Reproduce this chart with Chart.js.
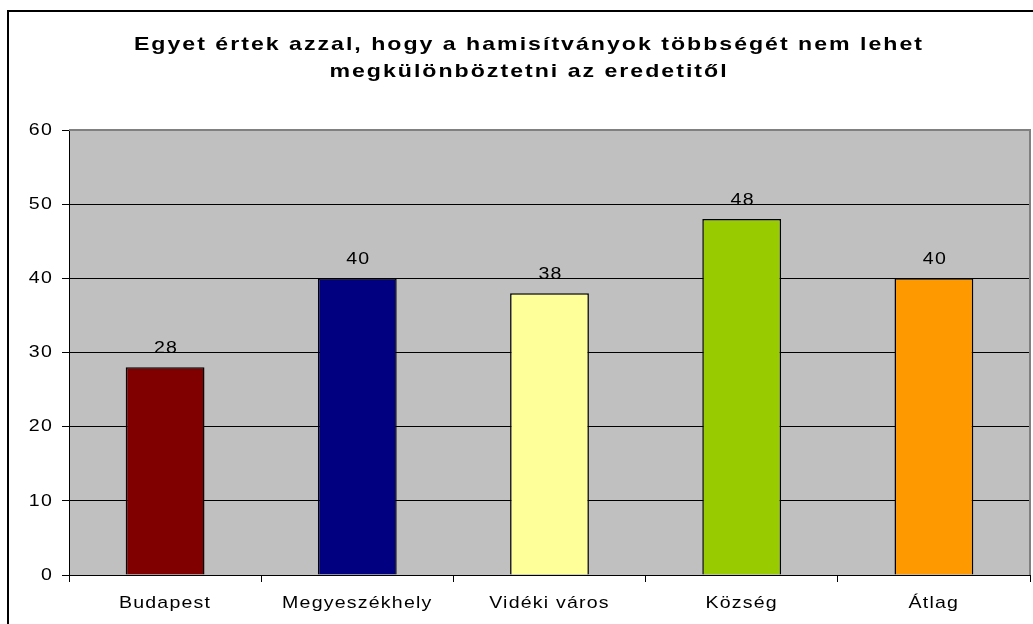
<!DOCTYPE html>
<html>
<head>
<meta charset="utf-8">
<script src="https://cdn.jsdelivr.net/npm/chart.js@4/dist/chart.umd.min.js"></script>
<style>
  html, body { margin: 0; padding: 0; background: #fff; }
  #wrap { width: 1033px; height: 624px; }
</style>
</head>
<body>
<div id="wrap"><canvas id="chart" width="1033" height="624"></canvas></div>
<script>
const titleLines = ['Egyet értek azzal, hogy a hamisítványok többségét nem lehet', 'megkülönböztetni az eredetitől'];
const categories = ['Budapest', 'Megyeszékhely', 'Vidéki város', 'Község', 'Átlag'];
const values = [28, 40, 38, 48, 40];
const barColors = ['#800000', '#000080', '#FFFF99', '#99CC00', '#FF9900'];
const yTicks = [0, 10, 20, 30, 40, 50, 60];

const FONT = '"Liberation Sans", Arial, sans-serif';

const canvas = document.getElementById('chart');
const context = canvas.getContext('2d');

// the original text is drawn a bit wider than Arial, stretch every label horizontally
context.textScaleX = 1.15;
const plainFillText = context.fillText.bind(context);
context.fillText = function (text, x, y, maxWidth) {
    this.save();
    this.translate(x, y);
    this.scale(this.textScaleX, 1);
    plainFillText(text, 0, 0);
    this.restore();
};

// Excel-like frame, grey plot area, title
const framePlugin = {
    id: 'frame',
    beforeDraw(chart) {
        const ctx = chart.ctx;
        const a = chart.chartArea;
        ctx.letterSpacing = '1.05px';
        ctx.save();
        ctx.fillStyle = '#fff';
        ctx.fillRect(0, 0, chart.width, chart.height);
        ctx.lineWidth = 2;
        ctx.strokeStyle = '#000';
        ctx.strokeRect(8, 11, chart.width + 10, chart.height + 10);
        ctx.fillStyle = '#C0C0C0';
        ctx.fillRect(a.left, a.top, a.right - a.left, a.bottom - a.top);
        ctx.restore();
    },
    afterDraw(chart) {
        const ctx = chart.ctx;
        const a = chart.chartArea;
        ctx.save();
        ctx.strokeStyle = '#808080';
        ctx.lineWidth = 2;
        ctx.beginPath();
        ctx.moveTo(a.left, a.top);
        ctx.lineTo(a.right, a.top);
        ctx.lineTo(a.right, a.bottom);
        ctx.stroke();

        // title
        ctx.letterSpacing = '1.6px';
        ctx.font = 'bold 18.5px ' + FONT;
        ctx.fillStyle = '#000';
        ctx.textAlign = 'center';
        ctx.textBaseline = 'alphabetic';
        ctx.textScaleX = 1.25;
        ctx.fillText(titleLines[0], 529, 50);
        ctx.fillText(titleLines[1], 529, 77);
        ctx.textScaleX = 1.15;
        ctx.restore();
    }
};

// value labels above the bars
const labelPlugin = {
    id: 'valueLabels',
    afterDatasetsDraw(chart) {
        const ctx = chart.ctx;
        const meta = chart.getDatasetMeta(0);
        ctx.save();
        ctx.font = '17px ' + FONT;
        ctx.fillStyle = '#000';
        ctx.textAlign = 'center';
        ctx.textBaseline = 'alphabetic';
        meta.data.forEach((bar, i) => {
            ctx.fillText(String(values[i]), bar.x + 1, bar.y - 14);
        });
        ctx.restore();
    }
};

new Chart(canvas, {
    type: 'bar',
    data: {
        labels: categories,
        datasets: [{
            data: values,
            backgroundColor: barColors,
            borderColor: '#000',
            borderWidth: 1.5,
            categoryPercentage: 1,
            barPercentage: 0.41
        }]
    },
    options: {
        responsive: false,
        animation: false,
        events: [],
        layout: { padding: { left: 0, top: 130, right: 3, bottom: 0 } },
        plugins: {
            legend: { display: false },
            tooltip: { enabled: false },
            title: { display: false }
        },
        scales: {
            x: {
                grid: {
                    offset: true,
                    drawOnChartArea: false,
                    drawTicks: true,
                    tickLength: 7,
                    color: '#000'
                },
                border: { color: '#000', width: 1 },
                ticks: {
                    color: '#000',
                    font: { family: FONT, size: 17 },
                    padding: 11,
                    maxRotation: 0
                },
                afterFit(scale) { scale.height = 49; }
            },
            y: {
                min: 0,
                max: 60,
                afterBuildTicks(scale) { scale.ticks = yTicks.map(v => ({ value: v })); },
                grid: {
                    color: ctx => (ctx.tick && ctx.tick.value === 60 ? '#808080' : '#000'),
                    tickColor: '#000',
                    tickLength: 7,
                    lineWidth: 1
                },
                border: { color: '#000', width: 1 },
                ticks: {
                    color: '#000',
                    font: { family: FONT, size: 17 },
                    padding: 9
                },
                afterFit(scale) { scale.width = 69; }
            }
        }
    },
    plugins: [framePlugin, labelPlugin]
});
</script>
</body>
</html>
